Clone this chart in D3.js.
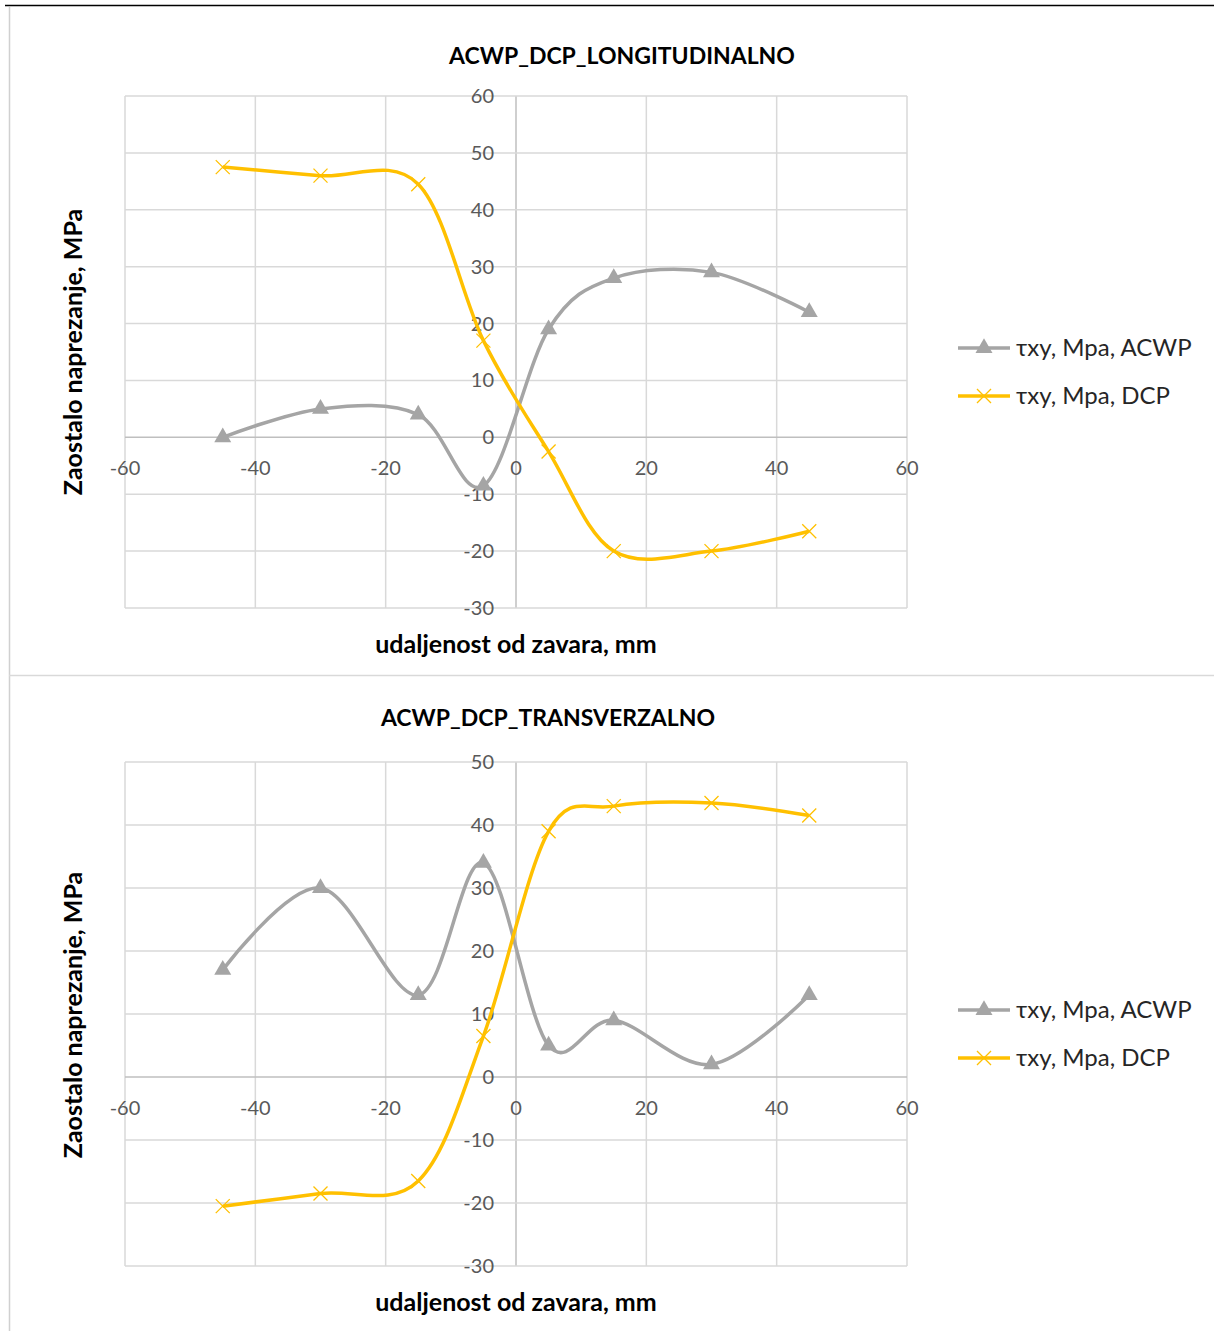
<!DOCTYPE html>
<html>
<head>
<meta charset="utf-8">
<script src="https://cdn.jsdelivr.net/npm/d3@7"></script>
<style>
  body { margin: 0; background: #fff; }
  svg { display: block; font-family: Lato, "Open Sans", sans-serif; }
</style>
</head>
<body>
<svg id="page" width="1214" height="1331"></svg>
<script>
// distances from weld, mm
var distances = [-45, -30, -15, -5, 5, 15, 30, 45];

// longitudinal chart
var longAcwp = [0, 5, 4, -8.5, 19, 28, 29, 22];
var longDcp = [47.5, 46, 44.5, 17, -2.5, -20, -20, -16.5];

// transverse chart
var transAcwp = [17, 30, 13, 34, 5, 9, 2, 13];
var transDcp = [-20.5, -18.5, -16.5, 6.5, 39, 43, 43.5, 41.5];

var xTicks = [-60, -40, -20, 0, 20, 40, 60];
var longYTicks = [60, 50, 40, 30, 20, 10, 0, -10, -20, -30];
var transYTicks = [50, 40, 30, 20, 10, 0, -10, -20, -30];

var seriesNames = ["τxy, Mpa, ACWP", "τxy, Mpa, DCP"];
var grey = "#a5a5a5", gold = "#ffc000";

var svg = d3.select("#page");

// page frame lines
svg.append("line").attr("x1", 5).attr("x2", 1214).attr("y1", 5.5).attr("y2", 5.5)
  .attr("stroke", "#000").attr("stroke-width", 1.5);
svg.append("line").attr("x1", 9.5).attr("x2", 9.5).attr("y1", 7).attr("y2", 1331)
  .attr("stroke", "#d0d0d0").attr("stroke-width", 1.5);
svg.append("line").attr("x1", 9).attr("x2", 1214).attr("y1", 675.5).attr("y2", 675.5)
  .attr("stroke", "#d9d9d9").attr("stroke-width", 1.5);

function drawChart(cfg) {
  var g = svg.append("g");
  var x = d3.scaleLinear().domain([-60, 60]).range([125, 907]);
  var y = d3.scaleLinear().domain(cfg.yDomain).range([cfg.bottom, cfg.top]);

  // grid
  g.selectAll(".vg").data(xTicks).enter().append("line")
    .attr("x1", function(d) { return x(d); }).attr("x2", function(d) { return x(d); })
    .attr("y1", cfg.top).attr("y2", cfg.bottom)
    .attr("stroke", function(d) { return d === 0 ? "#bfbfbf" : "#d9d9d9"; })
    .attr("stroke-width", 1.5);
  g.selectAll(".hg").data(cfg.yTicks).enter().append("line")
    .attr("x1", 125).attr("x2", 907)
    .attr("y1", function(d) { return y(d); }).attr("y2", function(d) { return y(d); })
    .attr("stroke", function(d) { return d === 0 ? "#bfbfbf" : "#d9d9d9"; })
    .attr("stroke-width", 1.5);

  // tick labels (axes cross at 0)
  g.selectAll(".xl").data(xTicks).enter().append("text")
    .attr("x", function(d) { return x(d); }).attr("y", y(0) + 38)
    .attr("text-anchor", "middle").attr("font-size", 20).attr("fill", "#595959")
    .text(function(d) { return d; });
  g.selectAll(".yl").data(cfg.yTicks).enter().append("text")
    .attr("x", x(0) - 22).attr("y", function(d) { return y(d) + 7; })
    .attr("text-anchor", "end").attr("font-size", 20).attr("fill", "#595959")
    .text(function(d) { return d; });

  // titles
  g.append("text").attr("x", cfg.titleX).attr("y", cfg.titleY)
    .attr("text-anchor", "middle").attr("font-size", 23).attr("font-weight", "bold")
    .text(cfg.title);
  g.append("text").attr("x", 516).attr("y", cfg.bottom + 45)
    .attr("text-anchor", "middle").attr("font-size", 25).attr("font-weight", "bold")
    .text("udaljenost od zavara, mm");
  g.append("text")
    .attr("transform", "translate(82," + cfg.yTitleMid + ") rotate(-90)")
    .attr("text-anchor", "middle").attr("font-size", 25).attr("font-weight", "bold")
    .text("Zaostalo naprezanje, MPa");

  var line = d3.line()
    .x(function(d) { return x(d[0]); })
    .y(function(d) { return y(d[1]); })
    .curve(d3.curveCardinal.tension(0));

  var acwp = d3.zip(distances, cfg.acwp);
  var dcp = d3.zip(distances, cfg.dcp);

  g.append("path").datum(acwp).attr("d", line)
    .attr("fill", "none").attr("stroke", grey).attr("stroke-width", 3.5);
  g.append("path").datum(dcp).attr("d", line)
    .attr("fill", "none").attr("stroke", gold).attr("stroke-width", 3.5);

  var tri = d3.symbol().type(d3.symbolTriangle).size(125);
  var cross = d3.symbol().type(d3.symbolX).size(130);

  g.selectAll(".tri").data(acwp).enter().append("path")
    .attr("d", tri)
    .attr("transform", function(d) { return "translate(" + x(d[0]) + "," + y(d[1]) + ")"; })
    .attr("fill", grey);
  g.selectAll(".cr").data(dcp).enter().append("path")
    .attr("d", cross)
    .attr("transform", function(d) { return "translate(" + x(d[0]) + "," + y(d[1]) + ")"; })
    .attr("fill", "none").attr("stroke", gold).attr("stroke-width", 1.3);

  // legend
  var leg = g.append("g");
  [0, 1].forEach(function(i) {
    var ly = cfg.legendY + i * 48;
    leg.append("line").attr("x1", 958).attr("x2", 1010).attr("y1", ly).attr("y2", ly)
      .attr("stroke", i === 0 ? grey : gold).attr("stroke-width", 3.5);
    if (i === 0) {
      leg.append("path").attr("d", tri).attr("transform", "translate(984," + ly + ")").attr("fill", grey);
    } else {
      leg.append("path").attr("d", cross).attr("transform", "translate(984," + ly + ")")
        .attr("fill", "none").attr("stroke", gold).attr("stroke-width", 1.3);
    }
    leg.append("text").attr("x", 1016).attr("y", ly + 8).attr("font-size", 24).attr("fill", "#262626")
      .text(seriesNames[i]);
  });
}

drawChart({
  title: "ACWP_DCP_LONGITUDINALNO", titleX: 622,
  titleY: 64, top: 96, bottom: 608, yDomain: [-30, 60], yTicks: longYTicks,
  yTitleMid: 352, legendY: 348, acwp: longAcwp, dcp: longDcp
});
drawChart({
  title: "ACWP_DCP_TRANSVERZALNO", titleX: 548,
  titleY: 726, top: 762, bottom: 1266, yDomain: [-30, 50], yTicks: transYTicks,
  yTitleMid: 1015, legendY: 1010, acwp: transAcwp, dcp: transDcp
});
</script>
</body>
</html>
